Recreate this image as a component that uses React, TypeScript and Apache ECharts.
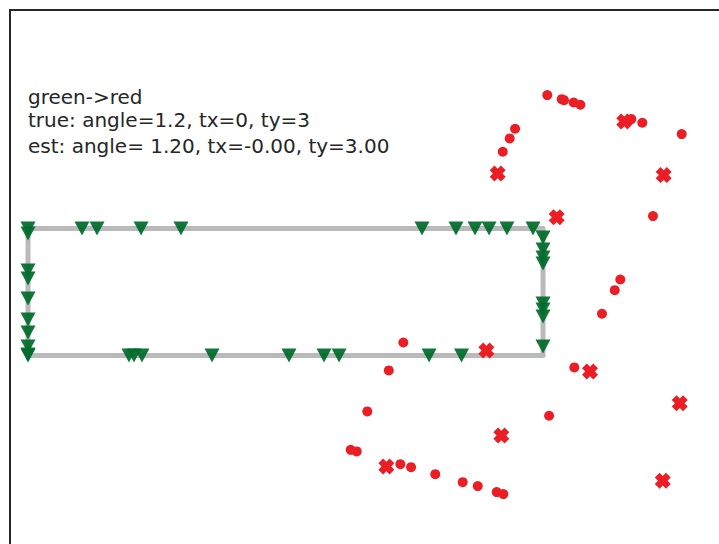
import React, { useEffect, useRef } from "react";
import * as echarts from "echarts";

// Rectangle outline (source shape)
const rectX = [0, 4, 4, 0, 0];
const rectY = [0, 0, 1, 1, 0];

// Green source points (triangle markers) on the rectangle edges
const greenX = [
  0, 0.419, 0.536, 0.878, 1.188, 3.06, 3.324, 3.472, 3.581, 3.72, 3.922,
  4, 4, 4, 4, 4, 4, 4, 4,
  0, 0, 0, 0, 0, 0, 0, 0,
  0.784, 0.823, 0.885, 1.429, 2.027, 2.299, 2.416, 3.115, 3.367, 0,
];
const greenY = [
  1, 1, 1, 1, 1, 1, 1, 1, 1, 1, 1,
  0.929, 0.835, 0.772, 0.724, 0.409, 0.362, 0.307, 0.071,
  0.961, 0.669, 0.606, 0.449, 0.283, 0.181, 0.071, 0.008,
  0, 0, 0, 0, 0, 0, 0, 0, 0, 0,
];

// Red transformed points (dots)
const redX = [
  2.915, 2.802, 2.635, 2.506, 2.553, 2.892, 2.975, 3.163, 3.376, 3.493, 3.64, 3.692,
  4.243, 4.047, 4.033, 4.145, 4.163, 4.238, 4.29, 4.686, 4.771, 5.077,
  3.783, 3.741, 3.687, 4.854, 4.6, 4.557, 4.458,
];
const redY = [
  0.102, -0.118, -0.441, -0.743, -0.756, -0.856, -0.88, -0.935, -0.998, -1.029, -1.076, -1.092,
  -0.094, -0.475, 2.05, 2.018, 2.01, 1.992, 1.974, 1.861, 1.832, 1.743,
  1.785, 1.709, 1.604, 1.097, 0.598, 0.514, 0.328,
];

// Red outliers (X markers)
const outX = [3.56, 4.365, 5.062, 3.676, 2.783, 4.93, 3.648, 4.631, 4.937, 4.106];
const outY = [0.039, -0.126, -0.376, -0.63, -0.874, -0.987, 1.433, 1.843, 1.42, 1.089];

const textLines = [
  "green->red",
  "true: angle=1.2, tx=0, ty=3",
  "est: angle= 1.20, tx=-0.00, ty=3.00",
];

const X_MIN = -0.14;
const X_MAX = 6;
const Y_MIN = -2;
const Y_MAX = 2.72;
const PX_X = 128.75;
const PX_Y = 127;

const xShape =
  "path://M0,3 L3,0 L5,2 L7,0 L10,3 L8,5 L10,7 L7,10 L5,8 L3,10 L0,7 L2,5 Z";

const zip = (a: number[], b: number[]) => a.map((v, i) => [v, b[i]]);

export default function App() {
  const ref = useRef<HTMLDivElement>(null);
  useEffect(() => {
    if (!ref.current) return;
    const chart = echarts.init(ref.current, undefined, { renderer: "svg" });
    const axisLine = { show: true, onZero: false, lineStyle: { color: "#262626", width: 2 } };
    chart.setOption({
      animation: false,
      backgroundColor: "#ffffff",
      grid: {
        left: 10,
        top: 10,
        width: (X_MAX - X_MIN) * PX_X,
        height: (Y_MAX - Y_MIN) * PX_Y,
        containLabel: false,
        outerBoundsMode: "none",
      },
      xAxis: {
        type: "value",
        min: X_MIN,
        max: X_MAX,
        position: "top",
        axisLine,
        axisTick: { show: false },
        axisLabel: { show: false },
        splitLine: { show: false },
      },
      yAxis: {
        type: "value",
        min: Y_MIN,
        max: Y_MAX,
        position: "left",
        axisLine,
        axisTick: { show: false },
        axisLabel: { show: false },
        splitLine: { show: false },
      },
      graphic: textLines.map((t, i) => ({
        type: "text",
        left: 28,
        top: [97, 119.5, 146][i] - 10,
        style: {
          text: t,
          fill: "#262626",
          font: '20px "DejaVu Sans"',
          textVerticalAlign: "top",
        },
      })),
      series: [
        {
          type: "line",
          data: zip(rectX, rectY),
          symbol: "none",
          lineStyle: { color: "rgba(140,140,140,0.6)", width: 5, join: "round", cap: "round", opacity: 1 },
          z: 1,
        },
        {
          type: "scatter",
          data: zip(greenX, greenY),
          symbol: "triangle",
          symbolRotate: 180,
          symbolSize: [15, 14],
          itemStyle: { color: "rgba(0,108,44,0.93)", opacity: 1 },
          z: 2,
        },
        {
          type: "scatter",
          data: zip(redX, redY),
          symbol: "circle",
          symbolSize: 10,
          itemStyle: { color: "rgb(234,30,36)", opacity: 1 },
          z: 3,
        },
        {
          type: "scatter",
          data: zip(outX, outY),
          symbol: xShape,
          symbolSize: 16,
          itemStyle: { color: "rgb(234,30,36)", opacity: 1 },
          z: 4,
        },
      ],
    });
    return () => chart.dispose();
  }, []);
  return (
    <div
      ref={ref}
      style={{ position: "fixed", left: 0, top: 0, width: 719, height: 544, background: "#fff" }}
    />
  );
}
